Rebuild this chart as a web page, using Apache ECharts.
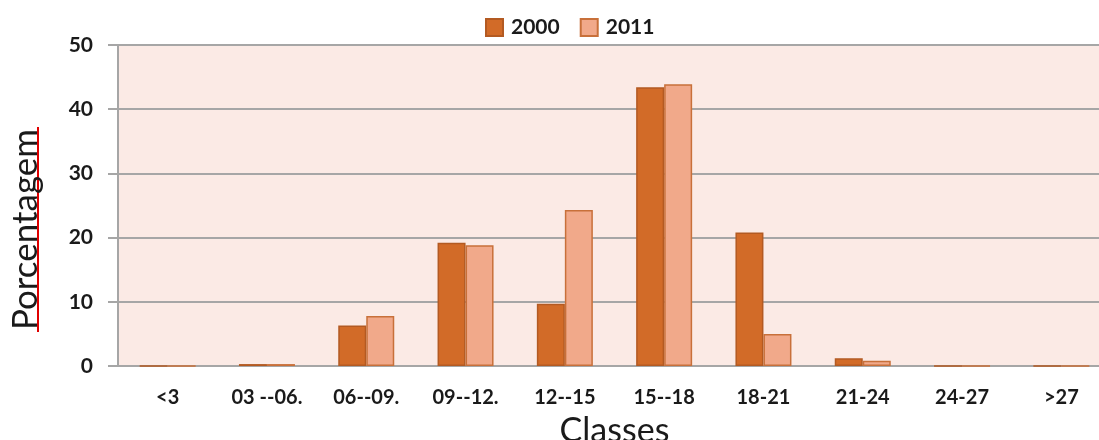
<!DOCTYPE html>
<html><head><meta charset="utf-8">
<script src="https://cdn.jsdelivr.net/npm/echarts@6/dist/echarts.min.js"></script>
<style>html,body{margin:0;padding:0;background:#fff}#c{width:1099px;height:440px}</style>
</head><body><div id="c"></div>
<script>
const categories = ['<3', '03 --06.', '06--09.', '09--12.', '12--15', '15--18', '18-21', '21-24', '24-27', '>27'];
const values2000 = [0, 0.3, 6.3, 19.2, 9.7, 43.4, 20.8, 1.2, 0, 0];
const values2011 = [0, 0.3, 7.8, 18.8, 24.3, 43.9, 5.0, 0.8, 0, 0];
const yTicks = { min: 0, max: 50, interval: 10 };

const chart = echarts.init(document.getElementById('c'));
const font = 'Lato, "Open Sans", sans-serif';
chart.setOption({
  animation: false,
  legend: {
    top: 12, left: 480, itemWidth: 17, itemHeight: 17, itemGap: 20,
    textStyle: { fontFamily: font, fontWeight: 'bold', fontSize: 21, color: '#1a1a1a', padding: [0, 0, 0, 3] },
    data: [{name: '2000', icon: 'rect'}, {name: '2011', icon: 'rect'}]
  },
  grid: { left: 118, right: -12, top: 45, bottom: 74, show: true, backgroundColor: '#FBEAE5', borderWidth: 0, outerBoundsMode: 'none' },
  xAxis: {
    type: 'category', data: categories,
    name: 'Classes', nameLocation: 'middle', nameGap: 48,
    nameTextStyle: { fontFamily: font, fontSize: 34, color: '#1a1a1a' },
    axisLine: { lineStyle: { color: '#A6A6A6', width: 2 } },
    axisTick: { length: 9, lineStyle: { color: '#A6A6A6', width: 2 } },
    axisLabel: { interval: 0, margin: 22, fontFamily: font, fontWeight: 'bold', fontSize: 20, color: '#1a1a1a' }
  },
  yAxis: {
    type: 'value', min: yTicks.min, max: yTicks.max, interval: yTicks.interval,
    name: 'Porcentagem', nameLocation: 'middle', nameGap: 75, nameRotate: 90,
    nameTextStyle: { fontFamily: font, fontSize: 35, color: '#1a1a1a', padding: [0, 48, 0, 0] },
    axisLine: { show: true, lineStyle: { color: '#A6A6A6', width: 2 } },
    axisTick: { show: true, length: 10, lineStyle: { color: '#A6A6A6', width: 2 } },
    axisLabel: { margin: 25, fontFamily: font, fontWeight: 'bold', fontSize: 21, color: '#1a1a1a' },
    splitLine: { lineStyle: { color: '#A6A6A6', width: 2 } }
  },
  series: [
    { name: '2000', type: 'bar', data: values2000, barWidth: 28, barGap: '0%',
      itemStyle: { color: '#D26B28', borderColor: '#B35A22', borderWidth: 1.5 } },
    { name: '2011', type: 'bar', data: values2011, barWidth: 28,
      itemStyle: { color: '#F1A98A', borderColor: '#C8703A', borderWidth: 1.5 } }
  ],
  graphic: [
    { type: 'line', shape: { x1: 38, y1: 127, x2: 38, y2: 332 }, style: { stroke: '#E00000', lineWidth: 2 } }
  ]
});
</script></body></html>
